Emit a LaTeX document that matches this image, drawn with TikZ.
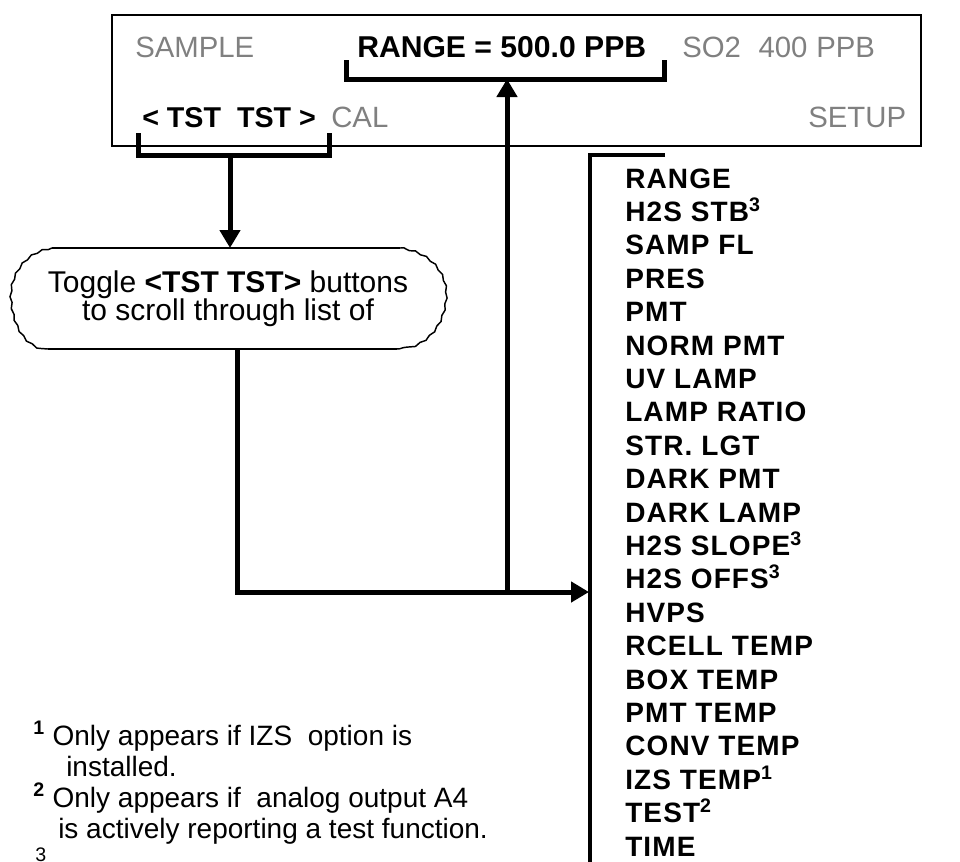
\documentclass[tikz,border=0pt]{standalone}
\usepackage{fontspec}
\setmainfont{Liberation Sans}
\usetikzlibrary{arrows.meta,decorations.pathmorphing}
\definecolor{dispgray}{gray}{0.5}
\begin{document}
\begin{tikzpicture}[x=0.75pt,y=-0.75pt,
  boxline/.style={line width=1.2pt},
  thickline/.style={line width=3.75pt, line join=miter},
  listline/.style={line width=3pt, line join=miter},
  arr/.style={thickline, -{Triangle[length=13.5pt,width=15pt]}},
  gtxt/.style={text=dispgray, font=\fontsize{22}{26}\selectfont, inner sep=0, anchor=base west},
  btxt/.style={text=black, font=\fontsize{22.6}{26}\selectfont\bfseries, inner sep=0, anchor=base west},
  listtxt/.style={font=\fontsize{21}{25}\selectfont\bfseries\addfontfeatures{LetterSpace=4}, inner sep=0, anchor=base west},
  fntxt/.style={font=\fontsize{21}{25}\selectfont, inner sep=0, anchor=base west},
  callline/.style={line width=1.1pt}
]
\useasboundingbox (0,0) rectangle (960,861);

% display box
\node[draw, boxline, anchor=north west, minimum width=606.75pt, minimum height=98.25pt, inner sep=0] (disp) at (111,14) {};
\node[gtxt] (sample) at (135,57) {SAMPLE};
\node[btxt] (range) at (357,57) {RANGE = 500.0 PPB};
\node[gtxt] (so2) at (682,57) {SO2\hspace{0.6em}400\hspace{0.3em}PPB};
\node[btxt, font=\fontsize{21.5}{26}\selectfont\bfseries] (tst) at (142,127) {< TST~~TST >};
\node[gtxt] (cal) at (331,127) {CAL};
\node[gtxt] (setup) at (808,127) {SETUP};

% brackets
\coordinate (rbl) at (346,60);
\coordinate (rbr) at (664,60);
\coordinate (rbm) at (507,79);
\draw[thickline] (rbl) |- (rbr |- rbm) -- (rbr);
\coordinate (tbl) at (138,133);
\coordinate (tbr) at (329,133);
\coordinate (tbm) at (230,155);
\draw[thickline] (tbl) |- (tbr |- tbm) -- (tbr);

% callout
\draw[callline] (52,248) -- (400,248);
\draw[callline] (48,349) -- (397,349);
\draw[callline, decorate, decoration={snake, amplitude=0.6pt, segment length=9pt}]
  (400,248) .. controls (436,254) and (446,282) .. (443,300) .. controls (440,326) and (424,346) .. (397,349);
\draw[callline, decorate, decoration={snake, amplitude=0.6pt, segment length=9pt}]
  (52,248) .. controls (22,254) and (12,282) .. (14,300) .. controls (16,326) and (28,346) .. (48,349);
\node[font=\fontsize{22.5}{21}\selectfont, align=center, inner sep=0] (callout) at (228,299)
  {Toggle \textbf{<TST TST>} buttons\\to scroll through list of};
\coordinate (calltop) at (230,248);
\coordinate (callbot) at (237,349);

\draw[arr] (tbm) -- (calltop);

% list
\coordinate (ltop) at (665,155);
\coordinate (lcorner) at (590,155);
\coordinate (lbot) at (590,870);
\draw[listline] (ltop) -- (lcorner) -- (lbot);
\coordinate (join) at (507,592);
\coordinate (ltip) at (589,592);
\draw[thickline] (callbot) |- (join);
\draw[arr] (join) -- (ltip);
\draw[arr] (join) -- (rbm);

\foreach \t [count=\i from 0] in {RANGE, H2S STB\textsuperscript{3}, SAMP FL, PRES, PMT, NORM PMT, UV LAMP, LAMP RATIO, STR. LGT, DARK PMT, DARK LAMP, H2S SLOPE\textsuperscript{3}, H2S OFFS\textsuperscript{3}, HVPS, RCELL TEMP, BOX TEMP, PMT TEMP, CONV TEMP, IZS TEMP\textsuperscript{1}, TEST\textsuperscript{2}, TIME}
  \node[listtxt] (item\i) at (625,{188+33.4*\i}) {\t};

% footnotes
\node[fntxt] (fn1) at (33,745) {\textsuperscript{\textbf{1}} Only appears if IZS~~option is};
\node[fntxt] (fn1b) at (66,776) {installed.};
\node[fntxt] (fn2) at (33,807) {\textsuperscript{\textbf{2}} Only appears if~~analog output A4};
\node[fntxt] (fn2b) at (58,838) {is actively reporting a test function.};
\node[fntxt] (fn3) at (35,872) {\textsuperscript{3}};
\end{tikzpicture}
\end{document}
